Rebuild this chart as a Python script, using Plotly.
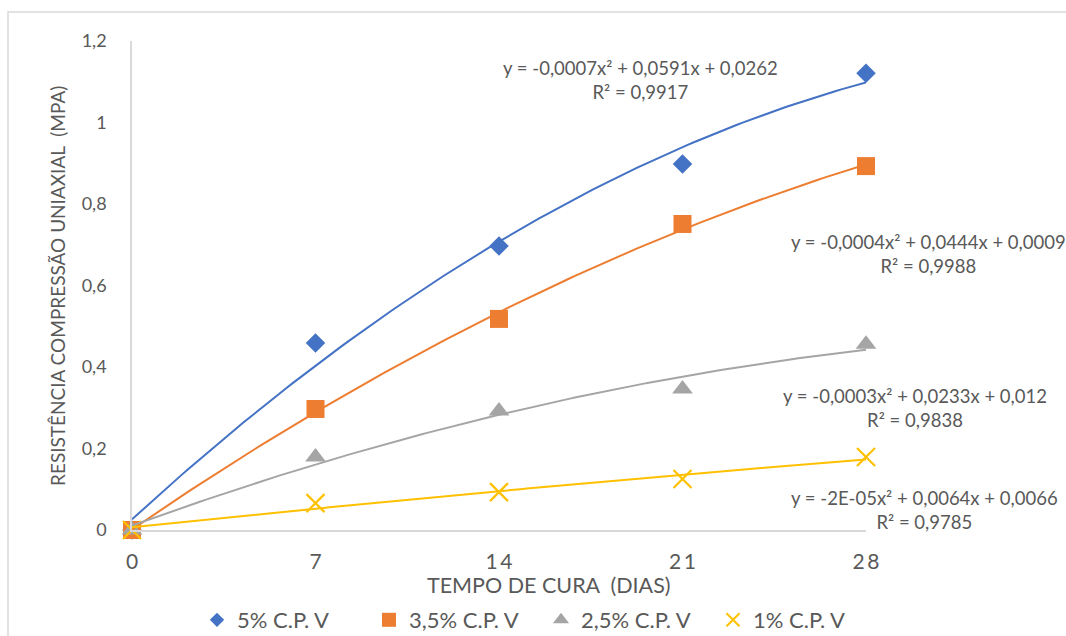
import numpy as np
import plotly.graph_objects as go

# ---- data ----
dias = [0, 7, 14, 21, 28]
tick_labels = ["0", "7", "1\u20094", "2\u20091", "2\u20098"]
s5 = [0.0, 0.459, 0.697, 0.898, 1.121]
s35 = [0.0, 0.297, 0.518, 0.751, 0.893]
s25 = [0.0, 0.179, 0.292, 0.346, 0.456]
s1 = [0.0, 0.066, 0.093, 0.125, 0.179]
names = ["5% C.P. V", "3,5% C.P. V", "2,5% C.P. V", "1% C.P. V"]
equations = [
    "y = -0,0007x² + 0,0591x + 0,0262<br>R² = 0,9917",
    "y = -0,0004x² + 0,0444x + 0,0009<br>R² = 0,9988",
    "y = -0,0003x² + 0,0233x + 0,012<br>R² = 0,9838",
    "y = -2E-05x² + 0,0064x + 0,0066<br>R² = 0,9785",
]

series = [s5, s35, s25, s1]
colors = ["#4472C4", "#ED7D31", "#A5A5A5", "#FFC000"]
symbols = ["diamond", "square", "triangle-up", "x-thin"]
sizes = [15, 18, 18, 18]
leg_sizes = [11, 14, 14, 13]

FONT = "Lato"
TXT = "#595959"

# plot area in pixels
W, H = 1066, 636
L, R, T, B = 132, 866, 41, 530

def px_x(p):
    return (p - L) / (R - L)

def px_y(p):
    return (B - p) / (B - T)

fig = go.Figure()

for ys, c, sym, sz, nm in zip(series, colors, symbols, sizes, names):
    mk = dict(color=c, size=sz, symbol=sym)
    if sym == "x-thin":
        mk["line"] = dict(color=c, width=2.2)
    fig.add_trace(go.Scatter(x=dias, y=ys, mode="markers", marker=mk,
                             showlegend=False, cliponaxis=False, hoverinfo="skip"))

# polynomial trendlines (2nd order) fitted to data
xs = np.linspace(0, 28, 120)
for ys, c in zip(series, colors):
    coef = np.polyfit(dias, ys, 2)
    fig.add_trace(go.Scatter(x=xs, y=np.polyval(coef, xs), mode="lines",
                             line=dict(color=c, width=2), showlegend=False,
                             hoverinfo="skip", cliponaxis=False))

# legend entries
for c, sym, sz, nm in zip(colors, symbols, leg_sizes, names):
    mk = dict(color=c, size=sz, symbol=sym)
    if sym == "x-thin":
        mk["line"] = dict(color=c, width=2)
    fig.add_trace(go.Scatter(x=[None], y=[None], mode="markers", marker=mk, name=nm))

# equation annotations (center px, block center y px)
eq_pos = [(640, 80), (928, 254), (915, 408), (924, 510)]
for (cx, cy), txt in zip(eq_pos, equations):
    fig.add_annotation(xref="paper", yref="paper", x=px_x(cx), y=px_y(cy),
                       text=txt, showarrow=False, xanchor="center", yanchor="middle",
                       align="center", font=dict(family=FONT, size=18.5, color=TXT))

# axis titles
fig.add_annotation(xref="paper", yref="paper", x=px_x(549), y=px_y(585),
                   text="TEMPO DE CURA  (DIAS)", showarrow=False,
                   xanchor="center", yanchor="middle",
                   font=dict(family=FONT, size=21.5, color=TXT))
fig.add_annotation(xref="paper", yref="paper", x=px_x(57), y=px_y(286),
                   text="RESISTÊNCIA COMPRESSÃO UNIAXIAL  (MPA)", showarrow=False,
                   textangle=-90, xanchor="center", yanchor="middle",
                   font=dict(family=FONT, size=19, color=TXT))

# outer chart frame
fig.add_shape(type="rect", xref="paper", yref="paper",
              x0=px_x(8), x1=px_x(1100), y0=px_y(700), y1=px_y(12),
              line=dict(color="#D9D9D9", width=1.5), fillcolor="rgba(0,0,0,0)",
              layer="below")

fig.update_layout(
    width=W, height=H,
    margin=dict(l=L, r=W - R, t=T, b=H - B, autoexpand=False),
    paper_bgcolor="white", plot_bgcolor="white",
    separators=",.",
    font=dict(family=FONT, size=18, color=TXT),
    legend=dict(orientation="h", x=px_x(541), y=px_y(620), xanchor="center",
                yanchor="middle", font=dict(family=FONT, size=22, color=TXT),
                itemwidth=30, tracegroupgap=0,
                entrywidth=127, entrywidthmode="pixels"),
    xaxis=dict(range=[0, 28], tickvals=dias, ticktext=tick_labels,
               showgrid=False, zeroline=False, showline=True,
               linecolor="#D9D9D9", linewidth=1.5, automargin=False,
               ticks="outside", ticklen=12, tickcolor="rgba(0,0,0,0)",
               tickfont=dict(family=FONT, size=21, color=TXT)),
    yaxis=dict(range=[0, 1.2], tickvals=[0, 0.2, 0.4, 0.6, 0.8, 1.0, 1.2],
               showgrid=False, zeroline=False, showline=True,
               linecolor="#D9D9D9", linewidth=1.5, automargin=False,
               ticks="outside", ticklen=20, tickcolor="rgba(0,0,0,0)",
               tickfont=dict(family=FONT, size=18, color=TXT)),
)

fig.write_html("out.html")
